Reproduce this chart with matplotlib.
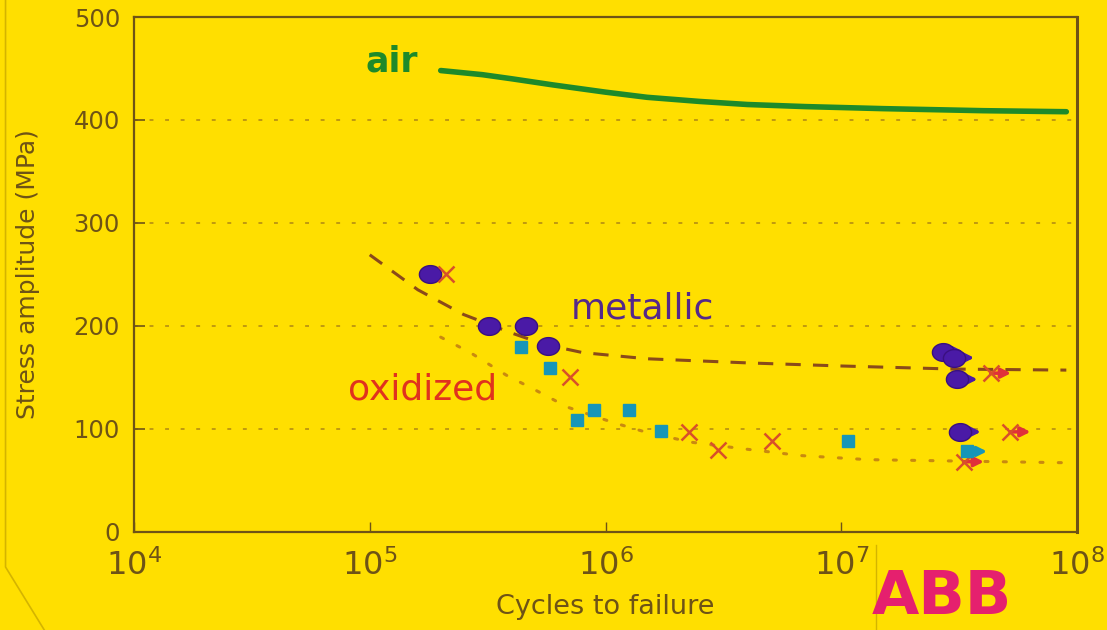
import numpy as np
import matplotlib
matplotlib.use("Agg")
import matplotlib.pyplot as plt
from matplotlib.path import Path
from matplotlib.lines import Line2D

# ---- data ----
air_cycles = [2.0e5, 3.0e5, 4.0e5, 6.0e5, 1.0e6, 1.5e6, 2.5e6, 4.0e6, 7.0e6, 1.5e7, 4.0e7, 9.0e7]
air_stress = [448, 444, 440, 434, 427, 422, 418, 415, 413, 411, 409, 408]

metal_curve_cycles = [1.0e5, 1.6e5, 2.5e5, 4.0e5, 5.5e5, 8.0e5, 1.5e6, 4.0e6, 1.0e7, 3.0e7, 9.0e7]
metal_curve_stress = [269, 235, 211, 193, 182, 174, 168, 164, 161, 158, 157]

oxid_curve_cycles = [2.0e5, 2.67e5, 3.8e5, 5.1e5, 6.9e5, 1.08e6, 1.47e6, 2.3e6, 3.7e6, 6.7e6, 1.3e7, 9.0e7]
oxid_curve_stress = [189, 174, 152, 137, 121, 106, 97, 87, 81, 74, 70, 67]

# metallic samples (circles)
metal_cycles = [1.8e5, 3.2e5, 4.6e5, 5.7e5]
metal_stress = [250, 200, 200, 180]
metal_runout_cycles = [2.7e7, 3.0e7, 3.1e7, 3.2e7]
metal_runout_stress = [175, 169, 148, 97]

# oxidized samples (crosses)
cross_cycles = [2.1e5, 7.1e5, 2.26e6, 3.0e6, 5.1e6]
cross_stress = [250, 150, 97, 79, 88]
cross_runout_cycles = [4.3e7, 5.2e7, 3.3e7]
cross_runout_stress = [154, 97, 68]

# oxidized samples (squares)
square_cycles = [4.4e5, 5.8e5, 7.6e5, 8.9e5, 1.26e6, 1.72e6, 1.07e7]
square_stress = [179, 159, 109, 118, 118, 98, 88]
square_runout_cycles = [3.4e7]
square_runout_stress = [78]

yticks = [0, 100, 200, 300, 400, 500]
xticks = [1e4, 1e5, 1e6, 1e7, 1e8]

# ---- colours ----
bg = '#ffdf00'
brown = '#6e5316'
grid_c = '#c09a10'
green = '#1e8a2a'
purple = '#4a1aa6'
red = '#d8502a'
teal = '#1796b8'

# wide ellipse marker for the metallic circles
t = np.linspace(0, 2 * np.pi, 40)
ellipse = Path(np.column_stack([1.25 * np.cos(t), np.sin(t)]), closed=True)

fig = plt.figure(figsize=(11.07, 6.30), dpi=100, facecolor=bg)
ax = fig.add_axes([0.121, 0.156, 0.852, 0.817], facecolor=bg)

ax.set_xscale('log')
ax.set_xlim(1e4, 1e8)
ax.set_ylim(0, 500)

for yv in [100, 200, 300, 400]:
    ax.axhline(yv, color=grid_c, lw=1.4, ls=(0, (2, 6)), zorder=1)

# curves
ax.plot(air_cycles, air_stress, color=green, lw=4, solid_capstyle='round',
        solid_joinstyle='round', zorder=3)
ax.plot(metal_curve_cycles, metal_curve_stress, color='#8a4a1a', lw=2.2,
        ls=(0, (5, 4)), zorder=3)
ax.plot(oxid_curve_cycles, oxid_curve_stress, color='#c98a10', lw=2.2,
        ls=(0, (1, 5)), dash_capstyle='round', zorder=3)


def runout_arrows(xs, ys, color):
    for x, y in zip(xs, ys):
        ax.annotate('', xy=(x * 1.22, y), xytext=(x, y),
                    arrowprops=dict(arrowstyle='-|>', color=color, lw=2.5,
                                    mutation_scale=14, shrinkA=0, shrinkB=0),
                    zorder=4)


runout_arrows(metal_runout_cycles, metal_runout_stress, purple)
runout_arrows(cross_runout_cycles, cross_runout_stress, '#e0303a')
runout_arrows(square_runout_cycles, square_runout_stress, teal)

ax.plot(metal_cycles + metal_runout_cycles, metal_stress + metal_runout_stress,
        ls='none', marker=ellipse, ms=16, color=purple, mec='#3a1080', zorder=5)
ax.plot(cross_cycles + cross_runout_cycles, cross_stress + cross_runout_stress,
        ls='none', marker='x', ms=11, mew=1.8, color=red, zorder=5)
ax.plot(square_cycles + square_runout_cycles, square_stress + square_runout_stress,
        ls='none', marker='s', ms=8.5, color=teal, zorder=5)

# curve labels
ax.text(9.6e4, 447, 'air', color=green, fontsize=25, fontweight='bold',
        ha='left', va='baseline')
ax.text(7.1e5, 217, 'metallic', color='#55288a', fontsize=26, ha='left', va='center')
ax.text(8.1e4, 138, 'oxidized', color='#e0321e', fontsize=26, ha='left', va='center')

# axes styling
ax.set_yticks(yticks)
ax.set_yticklabels([str(v) for v in yticks])
ax.set_xticks(xticks)
ax.set_xticklabels([r'$10^{%d}$' % int(np.log10(v)) for v in xticks])
ax.xaxis.set_minor_locator(matplotlib.ticker.NullLocator())
ax.tick_params(axis='y', direction='in', length=8, width=1.2, color=brown,
               labelcolor=brown, labelsize=17.5, pad=10)
ax.tick_params(axis='x', direction='in', length=7, width=1.0, color=brown,
               labelcolor=brown, labelsize=23, pad=13)
for s in ax.spines.values():
    s.set_color(brown)
    s.set_linewidth(1.6)
ax.spines['right'].set_linewidth(2.2)

ax.set_ylabel('Stress amplitude (MPa)', color=brown, fontsize=18, labelpad=24)
ax.set_xlabel('Cycles to failure', color=brown, fontsize=19.5, labelpad=8)

# card edge and logo
fig.add_artist(Line2D([0.005, 0.005, 0.04], [1.0, 0.10, 0.0], color='#d4b400', lw=1.2))
fig.add_artist(Line2D([0.791, 0.791], [0.0, 0.135], color='#d4b400', lw=1.0))
fig.text(0.787, 0.004, 'ABB', color='#e5206e', fontsize=44, fontweight='black',
         ha='left', va='bottom')

fig.savefig('out.png', dpi=100, facecolor=bg)
